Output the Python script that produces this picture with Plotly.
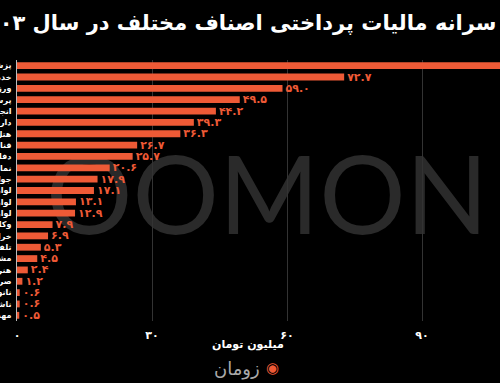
import plotly.graph_objects as go

categories = ["پزشکان", "خدمات فنی", "ورزشکاران", "پرستاران", "انجمن‌ها", "داروخانه‌ها",
              "هتل‌داران", "قنادان", "دفاتر اسناد رسمی", "نمایشگاه خودرو", "جواهرفروشان",
              "لوازم خانگی", "لوازم یدکی", "لوازم التحریر", "وکلا", "خرازی", "تلفن همراه",
              "مشاوران املاک", "هنرمندان", "صرافان", "نانوایان", "ناشران", "مهدکودک"]
values = [115.0, 72.7, 59.0, 49.5, 44.2, 39.3, 36.3, 26.7, 25.7, 20.6, 17.9, 17.1,
          13.1, 12.9, 7.9, 6.9, 5.3, 4.5, 2.4, 1.2, 0.6, 0.6, 0.5]
tick_vals = [0, 30, 60, 90]
tick_text = ["۰", "۳۰", "۶۰", "۹۰"]
title_text = "سرانه مالیات پرداختی اصناف مختلف در سال ۱۴۰۳"
axis_title = "میلیون تومان"
brand = "زومان"
watermark = "OOMON"

fa = str.maketrans("0123456789", "۰۱۲۳۴۵۶۷۸۹")
labels = [f"{v:.1f}".translate(fa) for v in values]

ORANGE = "#ee5a36"
FONT = "DejaVu Sans"
PLOT_TOP, PLOT_BOT, PLOT_L = 60, 320.7, 17
PH = PLOT_BOT - PLOT_TOP
PW = 500 - PLOT_L


def py(ypx):
    return (PLOT_BOT - ypx) / PH


def px(xpx):
    return (xpx - PLOT_L) / PW


fig = go.Figure(go.Bar(
    x=values, y=categories, orientation="h",
    marker=dict(color=ORANGE, line=dict(width=0)),
    text=labels, textposition="outside", cliponaxis=True, constraintext="none",
    textfont=dict(color=ORANGE, size=11, family=FONT, weight="bold"),
    width=0.6,
))

fig.update_layout(
    width=500, height=383,
    paper_bgcolor="black", plot_bgcolor="black",
    margin=dict(l=PLOT_L, r=0, t=PLOT_TOP, b=383 - PLOT_BOT, autoexpand=False),
    showlegend=False,
    xaxis=dict(range=[0, PW / 4.5], tickvals=tick_vals, ticktext=tick_text,
               showgrid=True, gridcolor="#333333", gridwidth=1, zeroline=False,
               showline=False, ticks="", automargin=False, ticklabelstandoff=6,
               tickfont=dict(color="white", size=11, family=FONT, weight="bold")),
    yaxis=dict(autorange="reversed", showgrid=False, showline=True, linecolor="#bbbbbb",
               linewidth=1, ticks="", ticklabelstandoff=3, automargin=False,
               tickfont=dict(color="white", size=8, family=FONT, weight="bold")),
    shapes=[dict(type="rect", xref="paper", yref="paper", x0=px(40), x1=px(620),
                 y0=0.2, y1=0.8, layer="below", line=dict(width=0), fillcolor="rgba(0,0,0,0)",
                 label=dict(text=watermark, textposition="middle left",
                            font=dict(size=108, color="#2a2a2a", family="Lato", weight=400)))],
    annotations=[
        dict(text=title_text, xref="paper", yref="paper",
             x=px(498), y=py(23), xanchor="right", yanchor="middle",
             showarrow=False,
             font=dict(size=21, color="white", family=FONT, weight="bold")),
        dict(text=axis_title, xref="paper", yref="paper",
             x=px(248), y=py(344), xanchor="center", yanchor="middle",
             showarrow=False,
             font=dict(color="white", size=11, family=FONT, weight="bold")),
        dict(text=brand, xref="paper", yref="paper",
             x=px(262), y=py(369), xanchor="right", yanchor="middle",
             showarrow=False,
             font=dict(size=18, color="#aaaaaa", family=FONT)),
        dict(text="◉", xref="paper", yref="paper",
             x=px(264), y=py(368), xanchor="left", yanchor="middle",
             showarrow=False,
             font=dict(size=15, color=ORANGE, family=FONT)),
    ],
)
fig.write_html("out.html")
